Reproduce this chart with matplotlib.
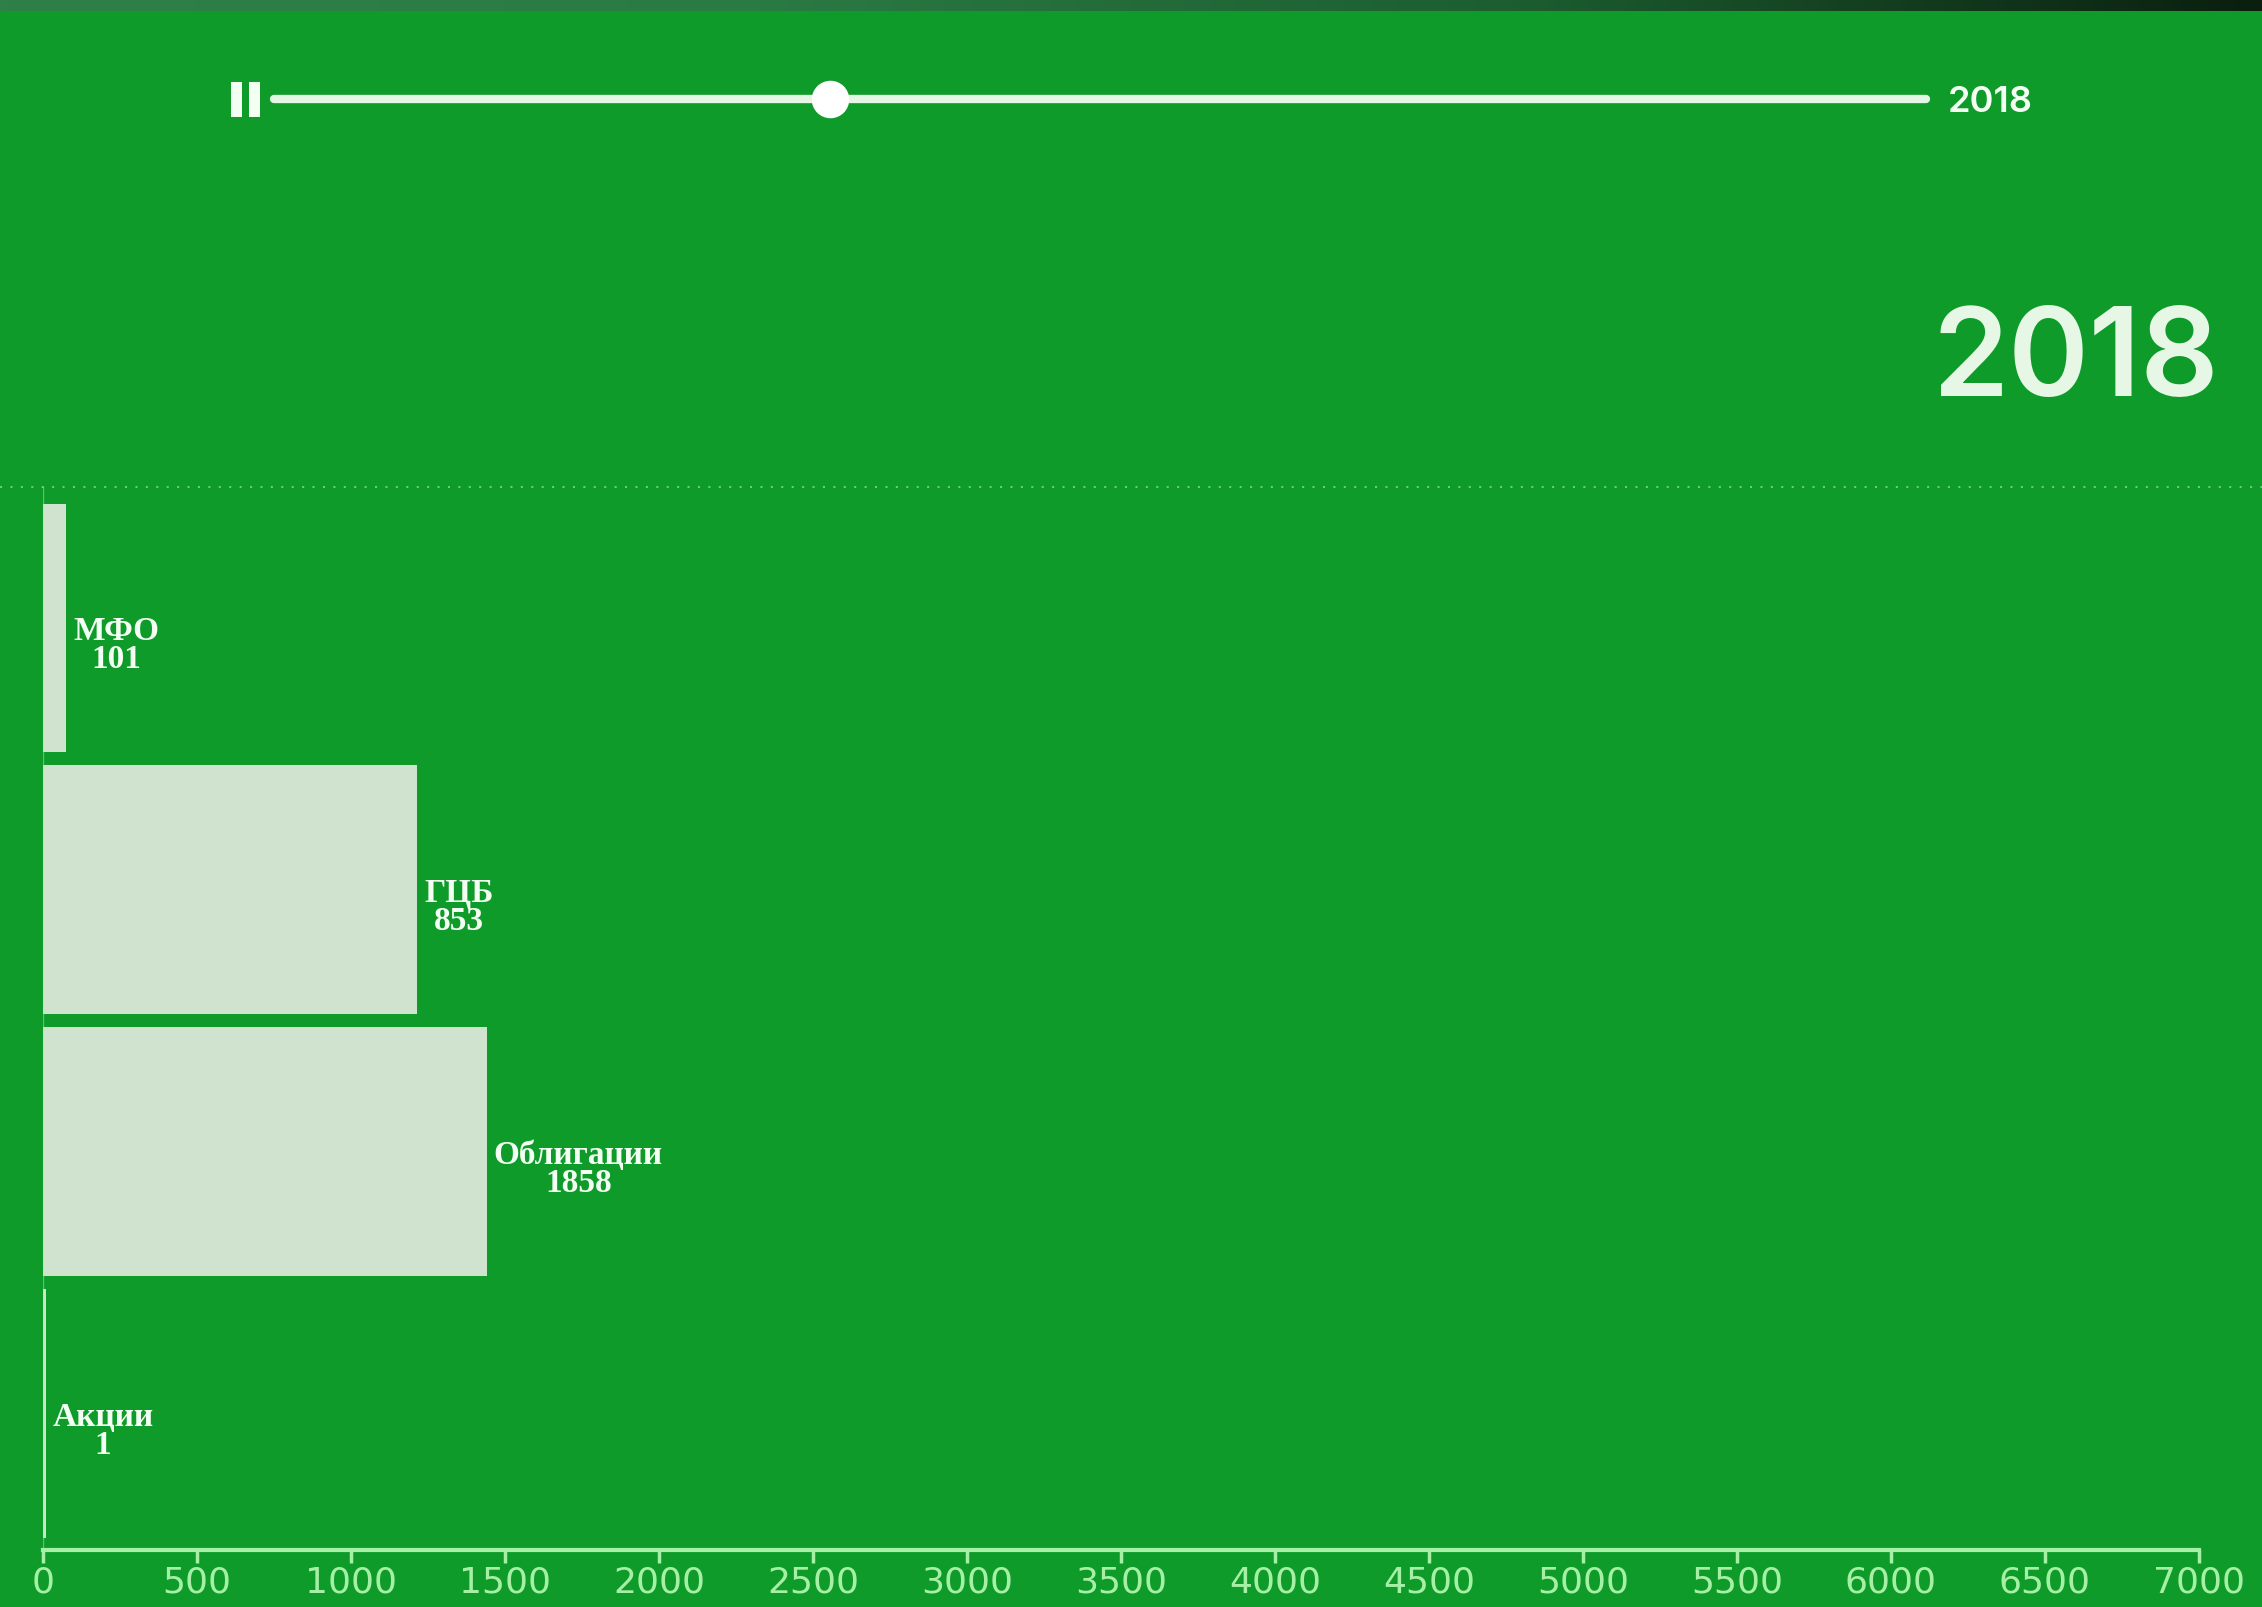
import matplotlib.pyplot as plt
from matplotlib.lines import Line2D
from matplotlib.patches import Rectangle
from matplotlib.colors import LinearSegmentedColormap
import numpy as np

# data (one animation frame: bars still growing, labels already final)
categories = ['Акции', 'Облигации', 'ГЦБ', 'МФО']
bar_values = [8, 1441, 1215, 75]
label_values = [1, 1858, 853, 101]
ticks = list(range(0, 7001, 500))
year = '2018'

bg = '#0e9b29'
bar_color = '#cfe3cf'
axis_color = '#a6f0a6'
text_color = '#f2fff2'

fig = plt.figure(figsize=(22.62, 16.08), dpi=100, facecolor=bg)

# thin dark strip across the very top
strip = fig.add_axes([0, 1 - 12 / 1608, 1, 12 / 1608])
grad = np.linspace(0, 1, 256).reshape(1, -1)
cmap = LinearSegmentedColormap.from_list('s', ['#2f8048', '#2a7a44', '#1c5e30', '#0a1f0e'])
strip.imshow(grad, aspect='auto', cmap=cmap)
strip.axis('off')

ax = fig.add_axes([0.0191, 0.0355, 0.972 - 0.0191, 0.6613])
ax.set_facecolor(bg)
y = np.arange(len(categories))
ax.barh(y, bar_values, height=0.95, color=bar_color)

for yi, cat, v, lab in zip(y, categories, bar_values, label_values):
    ax.annotate(f'{cat}\n{lab}', xy=(v, yi), xytext=(5, -12), textcoords='offset points',
                ha='left', va='center', multialignment='center', linespacing=0.85,
                color=text_color, fontsize=24, fontweight='bold', family='Liberation Serif')

ax.set_xlim(0, 7000)
ax.set_ylim(-0.52, 3.54)
ax.set_xticks(ticks)
ax.set_xticklabels([str(t) for t in ticks])
ax.set_yticks([])
for s in ['top', 'right', 'left']:
    ax.spines[s].set_visible(False)
ax.spines['bottom'].set_color(axis_color)
ax.spines['bottom'].set_linewidth(3)
ax.tick_params(axis='x', colors=axis_color, length=9, width=2.5, pad=1.5, labelsize=26)
ax.axvline(0, color=axis_color, lw=1, alpha=0.5)

# dotted separator line
fig.add_artist(Line2D([0, 1], [0.6968, 0.6968], transform=fig.transFigure,
                      color=axis_color, lw=1.5, ls=(0, (1, 4)), alpha=0.6))

# slider
slider_y = 0.938
fig.add_artist(Line2D([0.1212, 0.8514], [slider_y, slider_y], transform=fig.transFigure,
                      color='#e4f6e4', lw=6, solid_capstyle='round'))
fig.add_artist(Line2D([0.367], [slider_y], transform=fig.transFigure, marker='o',
                      markersize=27, color='#ffffff', markeredgewidth=0))
for x0 in [0.1021, 0.1101]:
    fig.add_artist(Rectangle((x0, 0.9266), 0.0049, 0.0218, transform=fig.transFigure,
                             color='#f2fff2', lw=0))
fig.text(0.861, slider_y - 0.002, year, color=text_color, fontsize=26, fontweight='semibold',
         family='Inter', ha='left', va='center')

# big year label
fig.text(0.981, 0.774, year, color='#e6f7e6', fontsize=88, fontweight='semibold',
         family='Inter', ha='right', va='center')

fig.savefig('out.png', dpi=100, facecolor=bg)
